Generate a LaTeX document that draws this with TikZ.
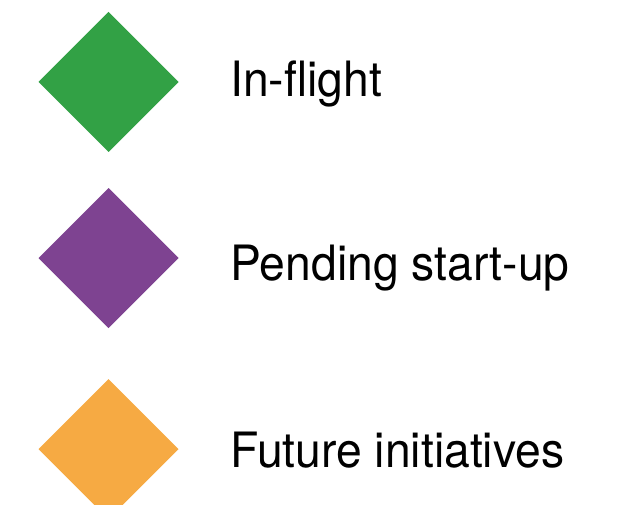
\documentclass[tikz,border=0pt]{standalone}
\usepackage{fontspec}
\setmainfont[FakeStretch=0.95]{TeX Gyre Heros}
\usetikzlibrary{shapes.geometric}
\definecolor{cgreen}{RGB}{50,161,69}
\definecolor{cpurple}{RGB}{126,67,145}
\definecolor{corange}{RGB}{246,170,67}
\tikzset{
  diamark/.style={diamond, inner sep=0pt, outer sep=0pt, minimum width=140pt, minimum height=140pt, draw=none},
  legtext/.style={anchor=base west, inner sep=0pt, font=\fontsize{48.7}{58}\selectfont, text=black}
}
\begin{document}
\begin{tikzpicture}[x=1pt,y=-1pt]
\useasboundingbox (0,0) rectangle (631,505);
\node[diamark, fill=cgreen] (g) at (108.5,82) {};
\node[diamark, fill=cpurple] (p) at (108.5,258) {};
\node[diamark, fill=corange] (o) at (108.5,449) {};
\node[legtext] (tg) at (230.2,96.7) {In-flight};
\node[legtext] (tp) at (230.2,280) {Pending start-up};
\node[legtext] (to) at (230.2,467) {Future initiatives};
\end{tikzpicture}
\end{document}
